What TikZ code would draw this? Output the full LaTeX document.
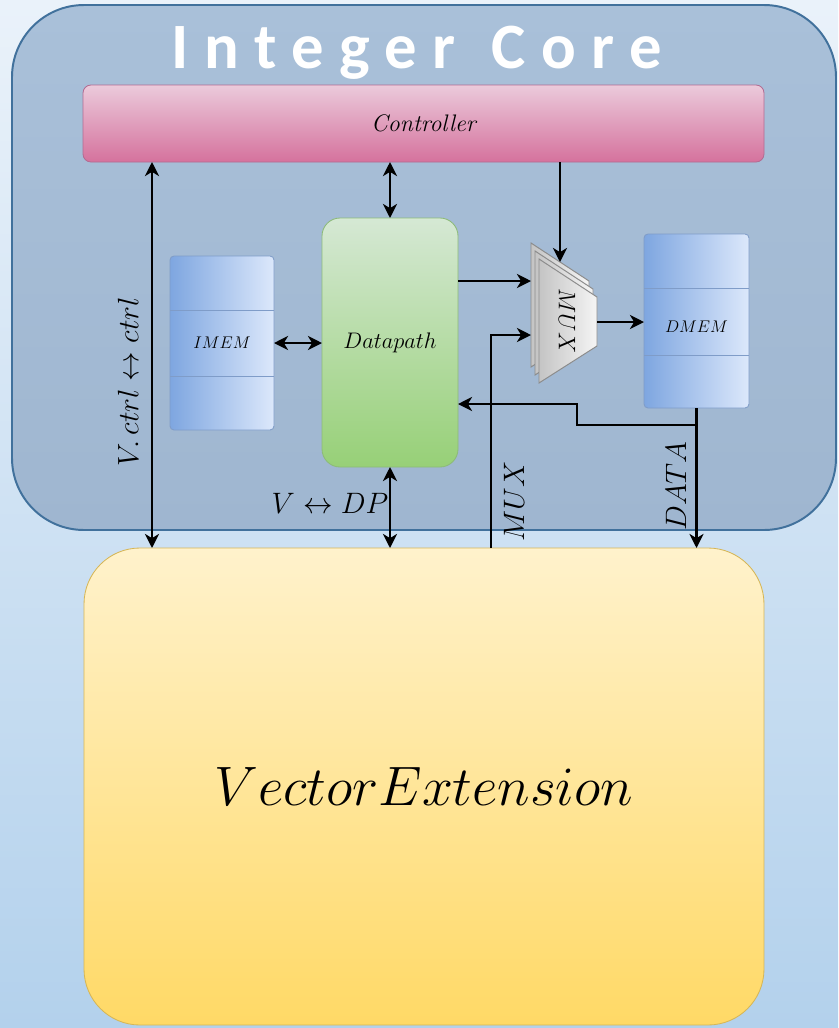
\RequirePackage{fix-cm}
\documentclass[tikz,border=0pt]{standalone}
\usepackage{fontspec}
\newfontfamily\titlefont[LetterSpace=24]{Carlito}
\usetikzlibrary{arrows.meta,fit}
\definecolor{bgtop}{HTML}{EAF2FA}
\definecolor{bgbot}{HTML}{B3D1EC}
\definecolor{coretop}{HTML}{A9C0D9}
\definecolor{corebot}{HTML}{9FB6D0}
\definecolor{coredraw}{HTML}{41719C}
\definecolor{ctrltop}{HTML}{EBCADB}
\definecolor{ctrlbot}{HTML}{D5729D}
\definecolor{ctrldraw}{HTML}{B26C92}
\definecolor{dptop}{HTML}{D5E8D4}
\definecolor{dpbot}{HTML}{97D077}
\definecolor{dpdraw}{HTML}{8DBB78}
\definecolor{memleft}{HTML}{7EA6E0}
\definecolor{memright}{HTML}{DCE8FB}
\definecolor{memdraw}{HTML}{7F9CC8}
\definecolor{vectop}{HTML}{FFF2CC}
\definecolor{vecbot}{HTML}{FFD966}
\definecolor{vecdraw}{HTML}{D6B656}
\definecolor{muxleft}{HTML}{C4C4C4}
\definecolor{muxright}{HTML}{F5F5F5}
\definecolor{muxdraw}{HTML}{8C8C8C}
\begin{document}
\begin{tikzpicture}[x=0.025cm,y=-0.025cm,
  box/.style={inner sep=0pt,outer sep=0pt},
  membox/.style={box,draw=memdraw,line width=0.6pt,left color=memleft,right color=memright,rounded corners=0.1cm},
  memline/.style={draw=memdraw,line width=0.6pt},
  muxlayer/.style={draw=muxdraw,line width=0.7pt,left color=muxleft,right color=muxright},
  conn/.style={line width=2pt,draw=black},
  tip/.tip={Stealth[length=10pt,width=10pt,inset=3pt]},
  arr/.style={conn,-tip},
  darr/.style={conn,tip-tip},
  lab/.style={font=\fontsize{21}{24}\selectfont},
  memlab/.style={font=\fontsize{12}{14}\selectfont}]
\useasboundingbox (0,0) rectangle (838,1028);
\shade[top color=bgtop,bottom color=bgbot] (0,0) rectangle (838,1028);
% Integer core
\node[box,fit={(12,5) (836,530)},top color=coretop,bottom color=corebot,draw=coredraw,line width=1.4pt,rounded corners=1.8cm] (core) {};
\node[anchor=base,text=white,font=\titlefont\bfseries\fontsize{46}{52}\selectfont] (title) at (417,68.5) {Integer\hspace{4pt} Core};
% Controller
\node[box,fit={(83,85) (764,162)},top color=ctrltop,bottom color=ctrlbot,draw=ctrldraw,line width=0.6pt,rounded corners=0.2cm] (ctrl) {};
\node[font=\fontsize{17}{20}\selectfont\itshape] (ctrltext) at (ctrl.center) {Controller};
% Datapath
\node[box,fit={(322,218) (458,467)},top color=dptop,bottom color=dpbot,draw=dpdraw,line width=0.6pt,rounded corners=0.45cm] (dp) {};
\node[font=\fontsize{16}{19}\selectfont] (dptext) at (dp.center) {$Datapath$};
% IMEM
\node[membox,fit={(170,256) (274,430)}] (imem) {};
\node[memlab] (imemtext) at (imem.center) {$IMEM$};
\draw[memline] (imem.west |- 0,310) -- (imem.east |- 0,310);
\draw[memline] (imem.west |- 0,376) -- (imem.east |- 0,376);
% DMEM
\node[membox,fit={(644,234) (749,408)}] (dmem) {};
\node[memlab] (dmemtext) at ([yshift=-0.15cm]dmem.center) {$DMEM$};
\draw[memline] (dmem.west |- 0,288) -- (dmem.east |- 0,288);
\draw[memline] (dmem.west |- 0,355) -- (dmem.east |- 0,355);
% MUX
\draw[muxlayer] (531,243) -- (589,281) -- (589,330) -- (531,367) -- cycle;
\draw[muxlayer] (535,251) -- (593,289) -- (593,338) -- (535,375) -- cycle;
\draw[muxlayer] (539,259) -- (597,297) -- (597,346) -- (539,383) -- cycle;
\node[rotate=-90,font=\fontsize{17}{20}\selectfont] (mux) at (567,321) {$MUX$};
\coordinate (muxtop) at (560,262);
\coordinate (muxinA) at (531,281);
\coordinate (muxinB) at (531,335);
\coordinate (muxout) at (597,322);
% Vector extension
\node[box,fit={(84,548) (764,1025)},top color=vectop,bottom color=vecbot,draw=vecdraw,line width=0.6pt,rounded corners=1.4cm] (vec) {};
\node[font=\fontsize{39.5}{46}\selectfont] (vectext) at (vec.center) {$VectorExtension$};
% connectors
\coordinate (xv) at (152,300);
\draw[darr] (xv |- ctrl.south) -- (xv |- vec.north);
\draw[darr] (dp.north |- ctrl.south) -- (dp.north);
\draw[arr] (muxtop |- ctrl.south) -- (muxtop);
\draw[arr] (dp.east |- muxinA) -- (muxinA);
\draw[darr] (imem.east) -- (imem.east -| dp.west);
\draw[arr] (muxout) -- (muxout -| dmem.west);
\coordinate (xm) at (491,400);
\draw[arr] (xm |- vec.north) |- (muxinB);
\draw[arr] (dmem.south) -- (dmem.south |- vec.north);
\coordinate (jn) at (697,425);
\coordinate (bend) at (577,404);
\draw[arr] (dmem.south |- jn) -| (bend) -- (bend -| dp.east);
\draw[darr] (dp.south) -- (dp.south |- vec.north);
% labels
\node[lab,rotate=90] (lctrl) at (128,382) {$V.\,ctrl \leftrightarrow ctrl$};
\node[lab] (ldp) at (330,503) {$V \leftrightarrow DP$};
\node[lab,rotate=90] (lmux) at (514,501) {$MUX$};
\node[lab,rotate=90] (ldata) at (676,486) {$DATA$};
\end{tikzpicture}
\end{document}
